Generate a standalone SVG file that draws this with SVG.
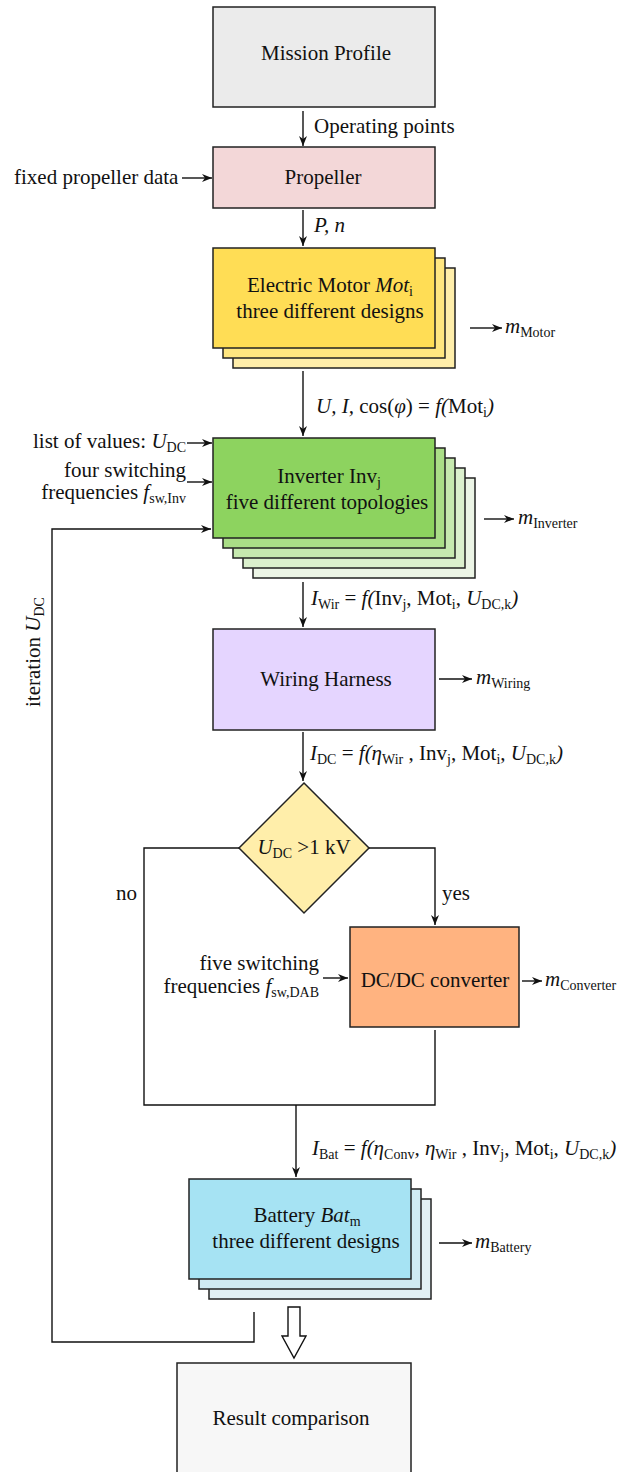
<svg xmlns="http://www.w3.org/2000/svg" width="632" height="1472" viewBox="0 0 632 1472" font-family="Liberation Serif, DejaVu Serif, serif">
<style>
text{font-family:'Liberation Serif','Times New Roman','DejaVu Serif',serif;font-size:21px;fill:#111}
.m{text-anchor:middle}
.e{text-anchor:end}
.i{font-style:italic}
.s{font-size:14px;font-style:normal}
.box{stroke:#222;stroke-width:1.5}
.ln{fill:none;stroke:#111;stroke-width:1.4}
.ar{fill:none;stroke:#111;stroke-width:1.4;marker-end:url(#ah)}
</style>
<defs>
<marker id="ah" viewBox="0 0 10 8" refX="10" refY="4" markerWidth="10" markerHeight="8" orient="auto" markerUnits="userSpaceOnUse"><path d="M0,0 L10,4 L0,8 L3,4 z" fill="#111"/></marker>
</defs>

<g id="mission-profile">
<rect class="box" x="213" y="7" width="222" height="100" fill="#ebebeb"/>
<text class="m" x="326" y="60">Mission Profile</text>
</g>

<g id="propeller">
<rect class="box" x="213" y="147" width="222" height="61" fill="#f3d7d8"/>
<text class="m" x="323" y="184">Propeller</text>
<text x="14" y="184">fixed propeller data</text>
</g>

<g id="motor">
<rect class="box" x="233" y="268" width="222" height="100" fill="#ffeeaa"/>
<rect class="box" x="223" y="258" width="222" height="100" fill="#ffe680"/>
<rect class="box" x="213" y="248" width="222" height="100" fill="#ffdd55"/>
<text class="m" x="330" y="292">Electric Motor <tspan class="i">Mot</tspan><tspan class="s" dy="4">i</tspan></text>
<text class="m" x="330" y="318">three different designs</text>
<text x="505" y="333"><tspan class="i">m</tspan><tspan class="s" dy="4">Motor</tspan></text>
</g>

<g id="inverter">
<rect class="box" x="253" y="478" width="222" height="100" fill="#ecf5e6"/>
<rect class="box" x="243" y="468" width="222" height="100" fill="#dbf0cd"/>
<rect class="box" x="233" y="458" width="222" height="100" fill="#c6e9af"/>
<rect class="box" x="223" y="448" width="222" height="100" fill="#aade87"/>
<rect class="box" x="213" y="438" width="222" height="100" fill="#8dd35f"/>
<text class="m" x="329" y="483">Inverter Inv<tspan class="s" dy="4">j</tspan></text>
<text class="m" x="327" y="509">five different topologies</text>
<text class="e" x="186" y="448">list of values: <tspan class="i">U</tspan><tspan class="s" dy="4">DC</tspan></text>
<text class="e" x="186" y="477">four switching</text>
<text class="e" x="186" y="499">frequencies <tspan class="i">f</tspan><tspan class="s" dy="4">sw,Inv</tspan></text>
<text x="518" y="524"><tspan class="i">m</tspan><tspan class="s" dy="4">Inverter</tspan></text>
</g>

<g id="wiring">
<rect class="box" x="213" y="629" width="222" height="101" fill="#e5d5ff"/>
<text class="m" x="326" y="686">Wiring Harness</text>
<text x="476" y="684"><tspan class="i">m</tspan><tspan class="s" dy="4">Wiring</tspan></text>
</g>

<g id="decision">
<polygon class="box" points="304,783 369,848 304,913 239,848" fill="#ffeeaa"/>
<text class="m" x="304" y="854"><tspan class="i">U</tspan><tspan class="s" dy="4">DC</tspan><tspan dy="-4"> &gt;1 kV</tspan></text>
<text x="116" y="900">no</text>
<text x="442" y="900">yes</text>
</g>

<g id="converter">
<rect class="box" x="350" y="927" width="169" height="100" fill="#ffb380"/>
<text class="m" x="435" y="987">DC/DC converter</text>
<text class="e" x="319" y="970">five switching</text>
<text class="e" x="319" y="993">frequencies <tspan class="i">f</tspan><tspan class="s" dy="4">sw,DAB</tspan></text>
<text x="545" y="986"><tspan class="i">m</tspan><tspan class="s" dy="4">Converter</tspan></text>
</g>

<g id="battery">
<rect class="box" x="209" y="1199" width="222" height="100" fill="#e2f1f5"/>
<rect class="box" x="199" y="1189" width="222" height="100" fill="#cfeaf2"/>
<rect class="box" x="189" y="1179" width="222" height="100" fill="#a6e3f3"/>
<text class="m" x="307" y="1222">Battery <tspan class="i">Bat</tspan><tspan class="s" dy="4">m</tspan></text>
<text class="m" x="306" y="1248">three different designs</text>
<text x="475" y="1248"><tspan class="i">m</tspan><tspan class="s" dy="4">Battery</tspan></text>
</g>

<g id="result">
<rect class="box" x="177" y="1363" width="234" height="130" fill="#f7f7f7"/>
<text class="m" x="291" y="1425">Result comparison</text>
</g>

<g id="connectors">
<path class="ar" d="M303,111 V146"/>
<text x="314" y="133">Operating points</text>
<path class="ar" d="M182,178 H212"/>
<path class="ar" d="M303,210 V246"/>
<text class="i" x="314" y="232">P, n</text>
<path class="ar" d="M470,328 H502"/>
<path class="ar" d="M303,371 V436"/>
<text x="316" y="413"><tspan class="i">U, I,</tspan> cos(<tspan class="i">φ</tspan>) = <tspan class="i">f(</tspan>Mot<tspan class="s" dy="4">i</tspan><tspan class="i" dy="-4">)</tspan></text>
<path class="ar" d="M187,443 H212"/>
<path class="ar" d="M187,482 H212"/>
<path class="ar" d="M484,519 H514"/>
<path class="ar" d="M303,582 V627"/>
<text x="311" y="605"><tspan class="i">I</tspan><tspan class="s" dy="4">Wir</tspan><tspan dy="-4"> = </tspan><tspan class="i">f(</tspan>Inv<tspan class="s" dy="4">j</tspan><tspan dy="-4">, Mot</tspan><tspan class="s" dy="4">i</tspan><tspan dy="-4">, </tspan><tspan class="i">U</tspan><tspan class="s" dy="4">DC,k</tspan><tspan class="i" dy="-4">)</tspan></text>
<path class="ar" d="M439,679 H472"/>
<path class="ar" d="M303,732 V781"/>
<text x="310" y="760"><tspan class="i">I</tspan><tspan class="s" dy="4">DC</tspan><tspan dy="-4"> = </tspan><tspan class="i">f(η</tspan><tspan class="s" dy="4">Wir</tspan><tspan dy="-4"> , Inv</tspan><tspan class="s" dy="4">j</tspan><tspan dy="-4">, Mot</tspan><tspan class="s" dy="4">i</tspan><tspan dy="-4">, </tspan><tspan class="i">U</tspan><tspan class="s" dy="4">DC,k</tspan><tspan class="i" dy="-4">)</tspan></text>
<path class="ar" d="M369,848 H435 V925"/>
<path class="ln" d="M239,848 H144 V1105 H435 V1030"/>
<path class="ar" d="M323,978 H348"/>
<path class="ar" d="M522,981 H542"/>
<path class="ar" d="M296,1105 V1177"/>
<text x="312" y="1155"><tspan class="i">I</tspan><tspan class="s" dy="4">Bat</tspan><tspan dy="-4"> = </tspan><tspan class="i">f(η</tspan><tspan class="s" dy="4">Conv</tspan><tspan class="i" dy="-4">, η</tspan><tspan class="s" dy="4">Wir</tspan><tspan dy="-4"> , Inv</tspan><tspan class="s" dy="4">j</tspan><tspan dy="-4">, Mot</tspan><tspan class="s" dy="4">i</tspan><tspan dy="-4">, </tspan><tspan class="i">U</tspan><tspan class="s" dy="4">DC,k</tspan><tspan class="i" dy="-4">)</tspan></text>
<path class="ar" d="M439,1243 H472"/>
<path class="ar" d="M254,1312 V1342 H52 V529 H211"/>
<text transform="translate(40,707) rotate(-90)">iteration <tspan class="i">U</tspan><tspan class="s" dy="4">DC</tspan></text>
<polygon points="288,1307 300,1307 300,1336 306,1336 294,1358 282,1336 288,1336" fill="#fff" stroke="#111" stroke-width="1.4"/>
</g>
</svg>
